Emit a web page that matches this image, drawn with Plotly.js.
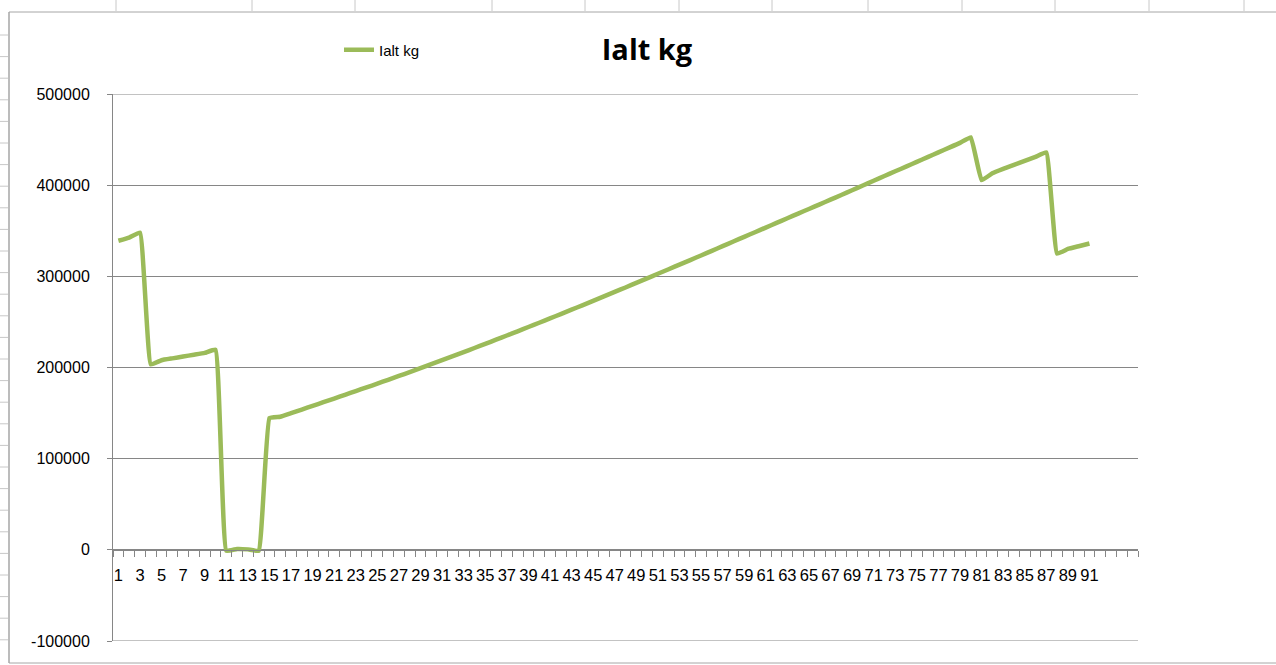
<!DOCTYPE html>
<html>
<head>
<meta charset="utf-8">
<script src="https://cdn.plot.ly/plotly-3.0.1.min.js"></script>
<style>
  html, body { margin: 0; padding: 0; background: #ffffff; }
  #chart { width: 1276px; height: 665px; }
</style>
</head>
<body>
<div id="chart"></div>
<script>
// ---- data ----
const seriesName = "Ialt kg";
const chartTitle = "Ialt kg";
const categories = [
  1,2,3,4,5,6,7,8,9,10,11,12,13,14,15,16,17,18,19,20,
  21,22,23,24,25,26,27,28,29,30,31,32,33,34,35,36,37,38,39,40,
  41,42,43,44,45,46,47,48,49,50,51,52,53,54,55,56,57,58,59,60,
  61,62,63,64,65,66,67,68,69,70,71,72,73,74,75,76,77,78,79,80,
  81,82,83,84,85,86,87,88,89,90,91
];
const ialtKg = [
  339000, 342500, 348000, 203500, 208000, 210000, 212000, 214000, 216000, 219500,
  -1000, 1000, 500, -1000, 144500, 146000, 149900, 153900, 157900, 161900,
  165900, 170000, 174100, 178200, 182300, 186500, 190700, 194900, 199200, 203600,
  208000, 212400, 216900, 221400, 225900, 230500, 235100, 239700, 244400, 249100,
  253800, 258600, 263400, 268200, 273100, 278000, 282900, 287800, 292800, 297800,
  302800, 307800, 312800, 317800, 322900, 328000, 333100, 338200, 343300, 348400,
  353500, 358600, 363700, 368800, 373900, 379000, 384100, 389200, 394400, 399600,
  404800, 410000, 415200, 420400, 425600, 430800, 436000, 441200, 446400, 452500,
  405500, 413000, 417800, 422200, 426600, 431000, 436000, 325000, 330000, 333000,
  336000
];
// the category axis has 95 slots; only 1..91 carry labels
const axisSlots = 95;
const tickLabelValues = [];
const tickLabelText = [];
for (let i = 1; i <= 91; i += 2) { tickLabelValues.push(i); tickLabelText.push(String(i)); }
const tickMarkValues = [];
for (let i = 0; i <= axisSlots; i++) tickMarkValues.push(i + 0.5);
const yTicks = [-100000, 0, 100000, 200000, 300000, 400000, 500000];

// ---- layout helpers (pixel -> paper) ----
const W = 1276, H = 665;
const M = { l: 113, r: 1276 - 1138, t: 94, b: 665 - 641 };
const PW = W - M.l - M.r, PH = H - M.t - M.b;
const px = x => (x - M.l) / PW;
const py = y => (H - M.b - y) / PH;
const yMin = -100000, yMax = 500000;
const zeroPos = (0 - yMin) / (yMax - yMin);

const gray = '#868686';
const sheet = '#c8c8c8';
const shapes = [];
// gridlines at the range edges (Plotly skips those)
[yMin, yMax].forEach(v => {
  shapes.push({ type: 'line', xref: 'paper', yref: 'y', x0: 0, x1: 1, y0: v, y1: v, line: { color: gray, width: 1 }, layer: 'below' });
});
// spreadsheet frame around the chart object
shapes.push({ type: 'line', xref: 'paper', yref: 'paper', x0: px(9), x1: px(1276), y0: py(12), y1: py(12), line: { color: '#a6a6a6', width: 1 } });
shapes.push({ type: 'line', xref: 'paper', yref: 'paper', x0: px(9), x1: px(9), y0: py(12), y1: py(663), line: { color: '#a6a6a6', width: 1.5 } });
shapes.push({ type: 'line', xref: 'paper', yref: 'paper', x0: px(9), x1: px(1276), y0: py(663), y1: py(663), line: { color: '#a6a6a6', width: 1 } });
[116, 252, 355, 492, 585, 679, 772, 868, 962, 1055, 1149, 1244].forEach(x => {
  shapes.push({ type: 'line', xref: 'paper', yref: 'paper', x0: px(x), x1: px(x), y0: py(0), y1: py(11), line: { color: sheet, width: 1 } });
});
for (let y = 35; y < 660; y += 21.6) {
  shapes.push({ type: 'line', xref: 'paper', yref: 'paper', x0: px(0), x1: px(8), y0: py(y), y1: py(y), line: { color: sheet, width: 1 } });
}

const trace = {
  type: 'scatter',
  mode: 'lines',
  name: seriesName,
  x: categories,
  y: ialtKg,
  line: { color: '#9BBB59', width: 4.5, shape: 'spline', smoothing: 0.3 },
  hoverinfo: 'x+y'
};
// invisible helper trace on the tick-mark axis
const tickTrace = {
  type: 'scatter', mode: 'lines', x: [0.5, 95.5], y: [0, 0],
  xaxis: 'x2', showlegend: false, hoverinfo: 'skip',
  line: { color: 'rgba(0,0,0,0)', width: 0 }
};

const tickFont = { family: 'Liberation Sans, Arial, sans-serif', size: 16, color: '#000000' };

const layout = {
  width: W, height: H,
  margin: M,
  paper_bgcolor: '#ffffff',
  plot_bgcolor: '#ffffff',
  title: {
    text: '<b>' + chartTitle + '</b>',
    font: { family: 'Open Sans, Liberation Sans, sans-serif', size: 29, color: '#000000' },
    x: px(647), xanchor: 'center', xref: 'paper',
    y: 1 - 50 / H, yanchor: 'middle', yref: 'container'
  },
  showlegend: true,
  legend: {
    x: px(339), xanchor: 'left', y: py(50), yanchor: 'middle',
    font: { family: 'Liberation Sans, Arial, sans-serif', size: 15, color: '#000000' },
    bgcolor: 'rgba(0,0,0,0)', itemwidth: 30
  },
  xaxis: {
    type: 'linear', range: [0.5, axisSlots + 0.5],
    anchor: 'free', position: zeroPos,
    showgrid: false, zeroline: false,
    showline: true, linecolor: gray, linewidth: 1,
    tickmode: 'array', tickvals: tickLabelValues, ticktext: tickLabelText,
    ticks: '', tickangle: 0, ticklabelstandoff: 10,
    tickfont: { family: 'Liberation Sans, Arial, sans-serif', size: 16.5, color: '#000000' }
  },
  xaxis2: {
    type: 'linear', range: [0.5, axisSlots + 0.5],
    overlaying: 'x', anchor: 'free', position: zeroPos,
    showgrid: false, zeroline: false, showline: false,
    tickmode: 'array', tickvals: tickMarkValues,
    ticks: 'outside', ticklen: 6, tickcolor: gray, tickwidth: 1,
    showticklabels: false
  },
  yaxis: {
    range: [yMin, yMax],
    tickmode: 'array', tickvals: yTicks,
    ticktext: yTicks.map(v => String(v)),
    showgrid: true, gridcolor: gray, gridwidth: 1,
    zeroline: false,
    showline: true, linecolor: gray, linewidth: 1,
    ticks: 'outside', ticklen: 5, tickcolor: gray,
    ticklabelstandoff: 14,
    tickfont: tickFont
  },
  shapes: shapes
};

Plotly.newPlot('chart', [trace, tickTrace], layout, { displayModeBar: false, staticPlot: true });
</script>
</body>
</html>
